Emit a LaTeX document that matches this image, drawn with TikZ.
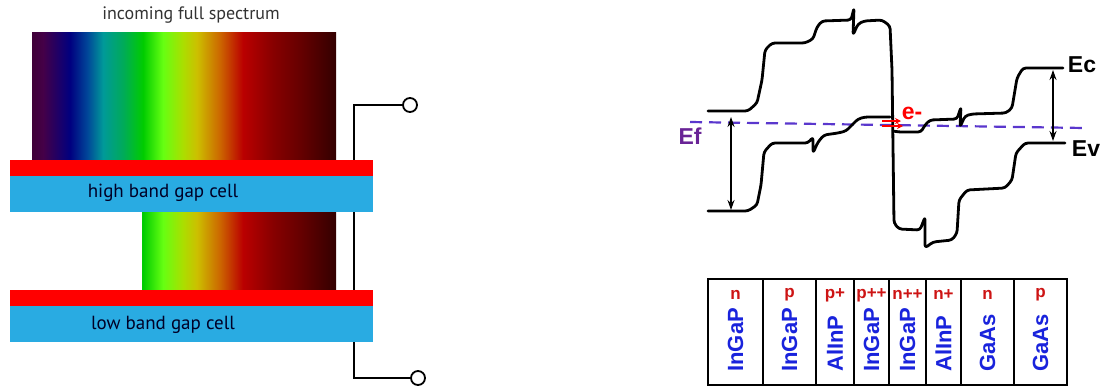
\documentclass[tikz,border=0pt]{standalone}
\usepackage{fontspec}
\setmainfont{Liberation Sans}
\newfontfamily\cellfont{PT Sans}
\usetikzlibrary{arrows.meta,positioning}

\definecolor{cellblue}{RGB}{41,171,226}
\definecolor{contactred}{RGB}{255,0,0}
\definecolor{layerred}{RGB}{205,20,20}
\definecolor{layerblue}{RGB}{25,35,220}
\definecolor{fermi}{RGB}{90,55,205}
\definecolor{fermitext}{RGB}{105,35,150}

\pgfdeclarehorizontalshading{spectrum}{100bp}{%
  rgb(0bp)=(0.25,0,0.22); rgb(25bp)=(0.25,0,0.22); rgb(26.8bp)=(0.27,0,0.28);
  rgb(31.25bp)=(0,0,0.5); rgb(34.05bp)=(0,0.27,0.6); rgb(36.68bp)=(0,0.6,0.6);
  rgb(39.97bp)=(0,0.67,0.35); rgb(43.26bp)=(0,0.8,0); rgb(46.55bp)=(0.4,1,0.07);
  rgb(49.84bp)=(0.67,0.87,0); rgb(52.14bp)=(0.8,0.75,0); rgb(55.92bp)=(0.8,0.4,0);
  rgb(59.7bp)=(0.73,0,0); rgb(64.64bp)=(0.53,0,0); rgb(69.08bp)=(0.4,0,0);
  rgb(75bp)=(0.2,0,0); rgb(100bp)=(0.2,0,0)}

\tikzset{
  contact/.style={fill=contactred, draw=none},
  cellbar/.style={fill=cellblue, draw=none},
  celltext/.style={font=\cellfont\fontsize{9.5}{11}\selectfont, text=black!85!blue, inner sep=0pt},
  terminal/.style={circle, draw, line width=0.9pt, fill=white, minimum size=7pt, inner sep=0pt},
  wire/.style={line width=1.1pt},
  band/.style={line width=1.4pt, line join=round, line cap=round, rounded corners=1.5pt},
  gaparrow/.style={{Stealth[length=5pt,width=3.5pt]}-{Stealth[length=5pt,width=3.5pt]}, line width=0.6pt},
  bandlabel/.style={font=\bfseries\fontsize{11.5}{13}\selectfont, inner sep=0pt},
  layerbox/.style={draw, line width=1pt},
  matlabel/.style={rotate=90, anchor=west, font=\bfseries\fontsize{11}{12}\selectfont, text=layerblue, inner sep=0pt},
  doplabel/.style={font=\bfseries\fontsize{8.5}{9}\selectfont, text=layerred, inner sep=0pt},
}

\begin{document}
\begin{tikzpicture}[x=0.5pt, y=-0.5pt]
  \useasboundingbox (0,0) rectangle (1103,387);

  % tandem cell stack
  \node[font=\cellfont\fontsize{9}{10}\selectfont, text=black!80, inner sep=0pt] (title) at (191,15) {incoming full spectrum};
  \shade[shading=spectrum] (32,32) rectangle (336,160);
  \begin{scope}
    \clip (142,212) rectangle (336,290);
    \shade[shading=spectrum] (32,212) rectangle (336,290);
  \end{scope}

  \coordinate (wtop) at (354,105);
  \coordinate (wbot) at (354,378);
  \node[terminal] (termtop) at (410,105) {};
  \node[terminal] (termbot) at (418,378) {};
  \draw[wire] (termtop.west) -- (wtop) -- (wbot) -- (termbot.west);

  \fill[contact] (10,160) rectangle (373,176);
  \fill[cellbar] (10,176) rectangle (373,212);
  \fill[contact] (10,290) rectangle (373,306);
  \fill[cellbar] (10,306) rectangle (373,342);
  \node[celltext] (hicell) at (163,193) {high band gap cell};
  \node[celltext] (locell) at (163,325) {low band gap cell};

  % band diagram
  \draw[dashed, dash pattern=on 6pt off 3.5pt, line width=1.1pt, fermi] (690,122) -- (1085,128);
  \draw[band] (708,111) -- (748,111) -- (757,103) -- (762,80) -- (765,50) -- (772,43)
    -- (805,43) -- (813,39) -- (817,27) -- (822,21) -- (851,20) -- (854,8) -- (853,35)
    -- (858,24) -- (864,21) -- (882,20) -- (890,26) -- (892,70) -- (894,223) -- (899,229)
    -- (920,230) -- (925,217) -- (925,248) -- (933,242) -- (952,240) -- (957,233)
    -- (959,200) -- (967,190) -- (1005,188) -- (1012,180) -- (1016,153) -- (1025,143)
    -- (1065,143);
  \draw[band] (708,211) -- (748,211) -- (757,205) -- (761,185) -- (764,152) -- (772,143)
    -- (808,143) -- (813,137) -- (813,153) -- (818,142) -- (824,135) -- (838,133)
    -- (846,131) -- (852,125) -- (858,119) -- (865,117) -- (890,117);
  \draw[band] (893,131) -- (899,132) -- (921,132) -- (925,125) -- (930,120) -- (957,119)
    -- (961,107) -- (960,127) -- (965,116) -- (972,114) -- (1006,113) -- (1012,108)
    -- (1017,78) -- (1023,68) -- (1063,68);

  \coordinate (eftop) at (731,117);
  \coordinate (efbot) at (731,210);
  \coordinate (egtop) at (1053,70);
  \coordinate (egbot) at (1053,141);
  \draw[gaparrow] (eftop) -- (efbot);
  \draw[gaparrow] (egtop) -- (egbot);

  \coordinate (hop1) at (882,121);
  \coordinate (hop2) at (882,126);
  \draw[red, line width=1pt, -{Stealth[length=3pt,width=3pt]}] (hop1) -- ++(19,0);
  \draw[red, line width=1pt, -{Stealth[length=3pt,width=3pt]}] (hop2) -- ++(21,0);

  \node[bandlabel] (ec) at (1082,65) {Ec};
  \node[bandlabel] (ev) at (1086,149) {Ev};
  \node[bandlabel, text=fermitext] (ef) at (690,136) {Ef};
  \node[bandlabel, text=red] (elec) at (912,113) {e-};

  % layer stack
  \foreach \xl/\xr/\dop/\mat [count=\i] in {708/763/n/InGaP, 763/816/p/InGaP, 816/854/p+/AlInP,
      854/889/p++/InGaP, 889/926/n++/InGaP, 926/961/n+/AlInP, 961/1014/n/GaAs, 1014/1067/p/GaAs} {
    \draw[layerbox] (\xl,279) rectangle (\xr,385);
    \node[doplabel] (dop\i) at ({(\xl+\xr)/2},295) {\dop};
    \node[matlabel] (mat\i) at ({(\xl+\xr)/2},372) {\mat};
  }
\end{tikzpicture}
\end{document}
